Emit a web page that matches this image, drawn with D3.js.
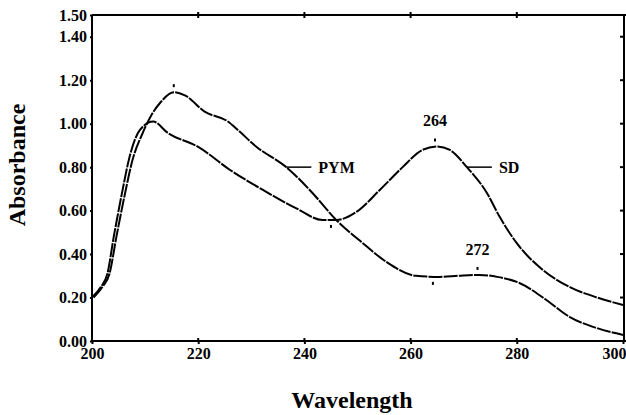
<!DOCTYPE html>
<html>
<head>
<meta charset="utf-8">
<script src="https://cdn.jsdelivr.net/npm/d3@7"></script>
<style>
  body { margin: 0; background: #fff; }
</style>
</head>
<body>
<svg id="chart" width="626" height="415"></svg>
<script>
const FONT = "'Liberation Serif', 'Times New Roman', Times, 'DejaVu Serif', serif";

// PYM spectrum
const pymWave = [200.3, 202, 203.3, 204.6, 206.4, 207.6, 209.6, 211.2, 212.8, 215.4, 217.5, 221.3, 225.6, 227.5, 231, 236.6, 241, 246, 251, 255.5, 261, 265.5, 269, 273, 276.3, 280.5, 285.5, 290, 295, 300];
const pymAbs  = [0.20, 0.25, 0.31, 0.48, 0.70, 0.83, 0.96, 1.04, 1.095, 1.145, 1.13, 1.054, 1.01, 0.97, 0.893, 0.80, 0.695, 0.557, 0.45, 0.363, 0.30, 0.295, 0.30, 0.304, 0.295, 0.267, 0.19, 0.11, 0.06, 0.028];

// SD spectrum
const sdWave = [200, 201.7, 202.9, 204.1, 205.8, 207, 209, 211.5, 214.3, 220, 226, 232.2, 238.5, 243.4, 246, 249.8, 254.2, 258.5, 262.2, 265, 267.4, 270.6, 274.4, 276.8, 280, 284.9, 290, 295.1, 300];
const sdAbs  = [0.20, 0.25, 0.31, 0.48, 0.70, 0.84, 0.97, 1.01, 0.957, 0.893, 0.787, 0.695, 0.61, 0.557, 0.557, 0.594, 0.695, 0.80, 0.879, 0.895, 0.879, 0.80, 0.68, 0.57, 0.45, 0.327, 0.248, 0.20, 0.166];

const yTicks = [0, 0.2, 0.4, 0.6, 0.8, 1.0, 1.2, 1.4, 1.5];
const xTicks = [200, 220, 240, 260, 280, 300];

// small peak / valley marks: [wavelength, absorbance, side]  side -1 above, 1 below
const marks = [[215.4, 1.145, -1], [245, 0.557, 1], [264.6, 0.895, -1], [264.2, 0.295, 1], [272.6, 0.304, -1]];
const peakLabels = [[264.6, 0.895, "264"], [272.6, 0.304, "272"]];
const seriesLabels = [[236.6, 0.80, "PYM"], [270.6, 0.80, "SD"]];

const svg = d3.select("#chart");
const x = d3.scaleLinear().domain([200, 300]).range([92, 623]);
const y = d3.scaleLinear().domain([0, 1.5]).range([341, 15]);

// frame
const frame = svg.append("g").attr("stroke", "#000").attr("stroke-width", 2);
frame.append("line").attr("x1", x(200)).attr("x2", 626).attr("y1", y(1.5)).attr("y2", y(1.5));
frame.append("line").attr("x1", x(200)).attr("x2", 626).attr("y1", y(0)).attr("y2", y(0));
frame.append("line").attr("x1", x(200)).attr("x2", x(200)).attr("y1", y(1.5)).attr("y2", y(0) + 1);
frame.append("line").attr("x1", x(300) + 1).attr("x2", x(300) + 1).attr("y1", y(1.5)).attr("y2", y(0) + 1);

// axes
const yAxis = svg.append("g")
  .attr("transform", `translate(${x(200)},0)`)
  .call(d3.axisLeft(y).tickValues(yTicks).tickFormat(d3.format(".2f")).tickSize(2).tickPadding(3));
const xAxis = svg.append("g")
  .attr("transform", `translate(0,${y(0)})`)
  .call(d3.axisBottom(x).tickValues(xTicks).tickFormat(d3.format("d")).tickSize(3).tickPadding(4));
[yAxis, xAxis].forEach((g) => {
  g.attr("font-family", FONT).attr("font-size", 16).attr("font-weight", "bold");
  g.select(".domain").remove();
  g.selectAll("line").attr("stroke-width", 2);
});
// last x label sits against the right edge
xAxis.selectAll("text").filter((d) => d === 300).attr("text-anchor", "end").attr("dx", 3);

// top / bottom crossing ticks, right inner ticks
svg.append("g").selectAll("line")
  .data(xTicks.slice(1, -1))
  .join("line")
  .attr("x1", (d) => x(d)).attr("x2", (d) => x(d))
  .attr("y1", y(1.5) - 3).attr("y2", y(1.5) + 3)
  .attr("stroke", "#000").attr("stroke-width", 2);
svg.append("g").selectAll("line")
  .data(xTicks.slice(1, -1))
  .join("line")
  .attr("x1", (d) => x(d)).attr("x2", (d) => x(d))
  .attr("y1", y(0) - 3).attr("y2", y(0))
  .attr("stroke", "#000").attr("stroke-width", 2);
svg.append("g").selectAll("line")
  .data(yTicks.slice(1, -1))
  .join("line")
  .attr("x1", x(300) - 3).attr("x2", x(300) + 1)
  .attr("y1", (d) => y(d)).attr("y2", (d) => y(d))
  .attr("stroke", "#000").attr("stroke-width", 2);

// curves
const line = d3.line().x((d) => x(d[0])).y((d) => y(d[1])).curve(d3.curveMonotoneX);
const series = [d3.zip(pymWave, pymAbs), d3.zip(sdWave, sdAbs)];
svg.append("g").selectAll("path")
  .data(series)
  .join("path")
  .attr("d", line)
  .attr("fill", "none")
  .attr("stroke", "#000")
  .attr("stroke-width", 2)
  .attr("stroke-dasharray", "14,1.2");

// peak marks
svg.append("g").selectAll("line")
  .data(marks)
  .join("line")
  .attr("x1", (d) => x(d[0])).attr("x2", (d) => x(d[0]))
  .attr("y1", (d) => y(d[1]) + d[2] * 5).attr("y2", (d) => y(d[1]) + d[2] * 8)
  .attr("stroke", "#000").attr("stroke-width", 2);

const labels = svg.append("g")
  .attr("font-family", FONT)
  .attr("font-weight", "bold")
  .attr("fill", "#000");

labels.selectAll("text.peak")
  .data(peakLabels)
  .join("text")
  .attr("class", "peak")
  .attr("x", (d) => x(d[0]))
  .attr("y", (d) => y(d[1]) - 20)
  .attr("text-anchor", "middle")
  .attr("font-size", 16)
  .text((d) => d[2]);

// series labels with leader lines
const lab = labels.selectAll("g")
  .data(seriesLabels)
  .join("g")
  .attr("transform", (d) => `translate(${x(d[0])},${y(d[1])})`);
lab.append("line").attr("x1", 0).attr("x2", 25).attr("stroke", "#000").attr("stroke-width", 1.5);
lab.append("text").attr("x", 32).attr("dy", "0.35em").attr("font-size", 16).text((d) => d[2]);

// axis titles
labels.append("text")
  .attr("transform", "translate(25,165) rotate(-90)")
  .attr("text-anchor", "middle")
  .attr("font-size", 24)
  .text("Absorbance");
labels.append("text")
  .attr("x", 352).attr("y", 408)
  .attr("text-anchor", "middle")
  .attr("font-size", 24)
  .text("Wavelength");
</script>
</body>
</html>
